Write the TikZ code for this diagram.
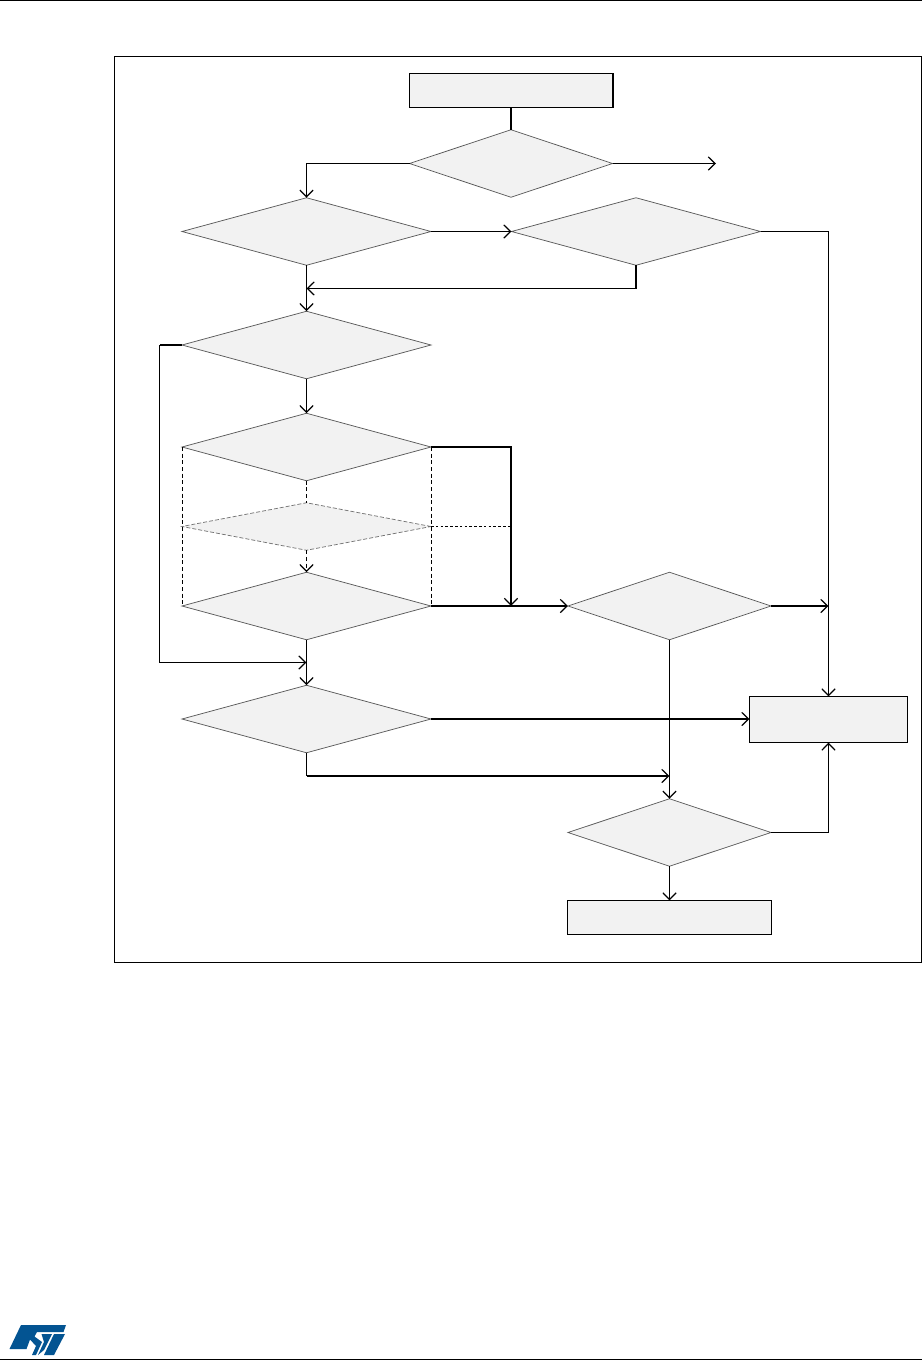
\documentclass[tikz,border=0pt]{standalone}
\usetikzlibrary{arrows.meta,shapes.geometric}
\definecolor{boxfill}{RGB}{242,242,242}
\definecolor{stblue}{RGB}{3,84,146}
\tikzset{
  x=0.75pt,y=-0.75pt,
  dec/.style={shape=diamond,draw=black!65,line width=0.55pt,fill=boxfill,inner sep=0pt,outer sep=0pt,minimum width=#1*0.75pt,minimum height=67.5*0.75pt},
  decdash/.style={shape=diamond,draw=black!55,line width=0.55pt,fill=boxfill,inner sep=0pt,outer sep=0pt,dashed,dash pattern=on 3pt off 1.5pt,minimum width=249*0.75pt,minimum height=47.5*0.75pt},
  proc/.style={shape=rectangle,draw=black,line width=0.85pt,fill=boxfill,inner sep=0pt,outer sep=0pt},
  tip/.style={-{Straight Barb[length=5.2pt,width=10pt,line width=0.9pt]}},
  thin line/.style={line width=0.85pt},
  thick line/.style={line width=1.5pt},
  dash line/.style={line width=0.75pt,dash pattern=on 3pt off 2pt},
  frame/.style={draw=black,line width=0.85pt},
}
\begin{document}
\begin{tikzpicture}
\useasboundingbox (0,0) rectangle (922,1361);
\fill[white] (0,0) rectangle (922,1361);
% page rules
\draw[line width=0.85pt] (0,0.5) -- (922,0.5);
\draw[line width=0.85pt] (0,1359.5) -- (922,1359.5);
% frame
\draw[frame] (114.5,56.5) rectangle (921.5,962.5);
% nodes
\node[proc,minimum width=203.6*0.75pt,minimum height=34*0.75pt] (start) at (511.2,90.5) {};
\node[dec=203] (d1) at (511,163.5) {};
\node[dec=249] (d2) at (306.5,231.5) {};
\node[dec=249] (d3) at (636,231.5) {};
\node[dec=249] (d4) at (306.5,345) {};
\node[dec=249] (d5) at (306.5,447) {};
\node[decdash] (d6) at (306.5,526.5) {};
\node[dec=249] (d7) at (306.5,606) {};
\node[dec=249] (d8) at (306.5,719) {};
\node[dec=203] (d9) at (669.5,606) {};
\node[dec=203] (d10) at (669.5,832.5) {};
\node[proc,minimum width=158*0.75pt,minimum height=46*0.75pt] (err) at (828.5,719.5) {};
\node[proc,minimum width=204*0.75pt,minimum height=34*0.75pt] (done) at (669.5,917.5) {};
% free ends and junctions
\coordinate (out1) at (716,163.5);
\coordinate (j3) at (306.5,288.5);
\coordinate (leftx) at (159.5,345);
\coordinate (j4) at (306.5,662.5);
\coordinate (busx) at (511,606);
\coordinate (j9) at (828.5,606);
\coordinate (j8) at (669.5,776);
% connectors
\draw[thick line] (start.south -| d1.north) -- (d1.north);
\draw[thin line,tip] (d1.west) -| (d2.north);
\draw[thin line,tip] (d1.east) -- (out1);
\draw[thin line,tip] (d2.east) -- (d3.west);
\draw[thin line,tip] (d2.south) -- (d4.north);
\draw[thin line,tip] (d3.south) |- (j3);
\draw[thin line,tip] (d3.east) -| (err.north);
\draw[thick line] (d4.west) -- (leftx);
\draw[thin line,tip] (leftx) |- (j4);
\draw[thin line,tip] (d4.south) -- (d5.north);
\draw[thick line,tip] (d5.east) -| (busx);
\draw[thick line,tip] (d7.east) -- (d9.west);
\draw[thin line,tip] (d7.south) -- (d8.north);
\draw[dash line] (d5.south) -- (d6.north);
\draw[dash line,tip] (d6.south) -- (d7.north);
\draw[dash line] (d5.west) -- (d7.west);
\draw[dash line] (d5.east) -- (d7.east);
\draw[line width=0.7pt,dash pattern=on 2pt off 1.6pt] (d6.east) -- (d6.east -| busx);
\draw[thick line,tip] (d8.east) -- (d8.east -| err.west);
\draw[thin line] (d8.south) -- (d8.south |- j8);
\draw[thick line,tip] (d8.south |- j8) -- (j8);
\draw[thin line] (d9.south) -- (j8);
\draw[thin line,tip] (j8) -- (d10.north);
\draw[thick line,tip] (d9.east) -- (j9);
\draw[thin line,tip] (d10.east) -| (err.south);
\draw[thin line,tip] (d10.south) -- (done.north);
% logo
\fill[stblue] (21,1325) -- (66,1325) -- (63.5,1332) -- (37,1332) -- (34.5,1336.5) -- (42,1342) -- (36,1355) -- (32,1355) -- (36,1346) -- (30,1339.5) -- (26.5,1349) -- (9.5,1349) -- cycle;
\fill[stblue] (41.5,1334) -- (52,1334) -- (44,1350) -- (38,1355) -- (44,1342) -- cycle;
\fill[stblue] (54,1334) -- (65,1334) -- (54,1355) -- (44,1355) -- cycle;
\end{tikzpicture}
\end{document}
